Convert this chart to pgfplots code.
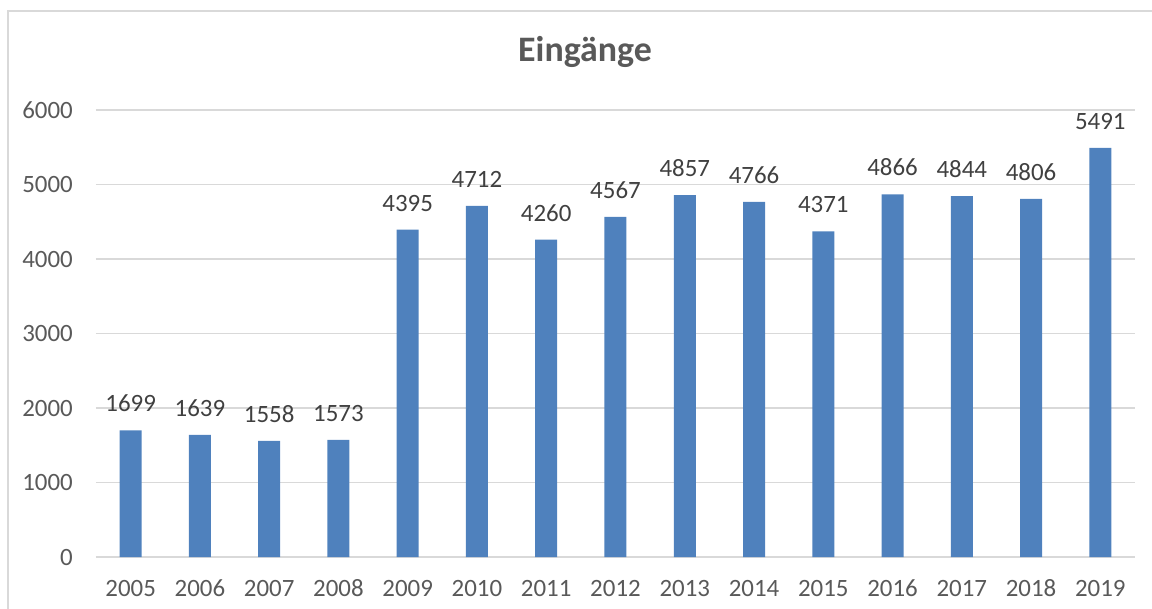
\documentclass[border=0pt]{standalone}
\usepackage{pgfplots}
\pgfplotsset{compat=1.18}
\usepackage{fontspec}
\setmainfont{Carlito}
\definecolor{barblue}{HTML}{4F81BD}
\definecolor{txtgrey}{HTML}{595959}
\definecolor{lblgrey}{HTML}{404040}
\definecolor{gridgrey}{HTML}{D9D9D9}
\begin{document}
\begin{tikzpicture}[x=1bp,y=1bp]
\useasboundingbox (-96bp,-52bp) rectangle (1056bp,557bp);
\draw[gridgrey, line width=1.2bp] (-88bp,-52bp) -- (-88bp,546bp) -- (1060bp,546bp);
\begin{axis}[
  at={(0bp,0bp)}, anchor=south west,
  scale only axis,
  width=1039bp, height=447bp,
  xmin=-0.5, xmax=14.5,
  ymin=0, ymax=6000,
  axis line style={draw=none},
  ybar, bar width=22bp,
  xtick=data,
  xticklabels={2005,2006,2007,2008,2009,2010,2011,2012,2013,2014,2015,2016,2017,2018,2019},
  ytick={0,1000,2000,3000,4000,5000,6000},
  major tick length=0pt,
  ymajorgrids, grid style={gridgrey, line width=1.5bp},
  /pgf/number format/assume math mode=true,
  scaled y ticks=false,
  yticklabel style={font=\fontsize{25}{28}\selectfont, text=txtgrey, inner sep=0pt, anchor=base east, xshift=-23bp, yshift=-8.2bp},
  xticklabel style={font=\fontsize{25}{28}\selectfont, text=txtgrey, inner sep=0pt, anchor=base, yshift=-39bp},
  yticklabel={\pgfmathprintnumber[1000 sep=]{\tick}},
  nodes near coords,
  every node near coord/.append style={font=\fontsize{25}{28}\selectfont, text=lblgrey, inner sep=0pt, anchor=base, yshift=18.5bp},
  nodes near coords={\pgfmathprintnumber[1000 sep=]{\pgfplotspointmeta}},
  clip=false,
]
\addplot[fill=barblue, draw=none] coordinates {
(0,1699) (1,1639) (2,1558) (3,1573) (4,4395) (5,4712) (6,4260) (7,4567)
(8,4857) (9,4766) (10,4371) (11,4866) (12,4844) (13,4806) (14,5491)};
\end{axis}
\node[font=\bfseries\fontsize{36}{40}\selectfont, text=txtgrey, anchor=base] at (489bp,495bp) {Eingänge};
\end{tikzpicture}
\end{document}
